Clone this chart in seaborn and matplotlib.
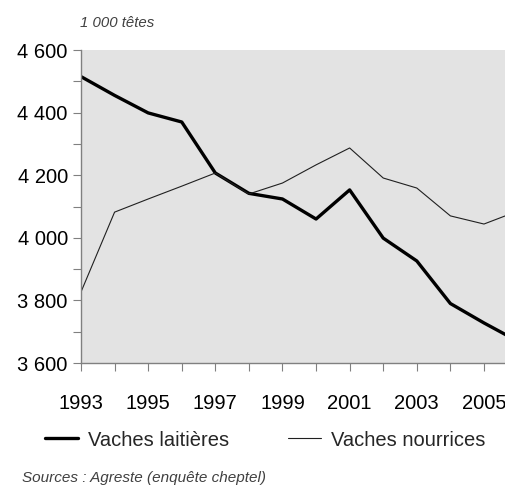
import matplotlib
matplotlib.use("Agg")
import matplotlib.pyplot as plt
import matplotlib.ticker as mticker
import seaborn as sns
import pandas as pd

years = list(range(1993, 2007))
laitieres = [4515, 4455, 4399, 4370, 4207, 4142, 4124, 4060, 4153, 3999, 3926, 3790, 3728, 3670]
nourrices = [3827, 4082, 4124, 4165, 4207, 4140, 4175, 4233, 4287, 4191, 4159, 4070, 4044, 4085]
series_names = ["Vaches laitières", "Vaches nourrices"]
unit_label = "1 000 têtes"
source_label = "Sources : Agreste (enquête cheptel)"
y_major = [3600, 3800, 4000, 4200, 4400, 4600]
x_major = [1993, 1995, 1997, 1999, 2001, 2003, 2005]

sns.set_theme(style="ticks")
plt.rcParams["font.family"] = ["Liberation Sans", "DejaVu Sans"]

df = pd.DataFrame({
    "année": years * 2,
    "valeur": laitieres + nourrices,
    "série": [series_names[0]] * len(years) + [series_names[1]] * len(years),
})

W, H = 506, 486
fig = plt.figure(figsize=(W / 100, H / 100), dpi=100)
ax = fig.add_axes([81 / W, 1 - 363 / H, (W - 81) / W, (363 - 50) / H])
ax.set_facecolor("#e3e3e3")

sns.lineplot(data=df[df["série"] == series_names[0]], x="année", y="valeur",
             color="black", linewidth=2.4, ax=ax, label=series_names[0])
sns.lineplot(data=df[df["série"] == series_names[1]], x="année", y="valeur",
             color="#202020", linewidth=0.8, ax=ax, label=series_names[1])

ax.set_xlim(1993, 1993 + (W - 81) / 33.58)
ax.set_ylim(3600, 4600)
ax.set_xlabel("")
ax.set_ylabel("")
ax.set_yticks(y_major)
ax.yaxis.set_minor_locator(mticker.MultipleLocator(100))
ax.set_xticks(x_major)
ax.xaxis.set_minor_locator(mticker.MultipleLocator(1))
ax.yaxis.set_major_formatter(mticker.FuncFormatter(lambda v, p: f"{int(v):,}".replace(",", " ")))

for s in ["top", "right"]:
    ax.spines[s].set_visible(False)
for s in ["left", "bottom"]:
    ax.spines[s].set_color("#808080")
    ax.spines[s].set_linewidth(1.0)

ax.tick_params(axis="y", which="both", length=6, width=0.8, color="#808080",
               direction="out", pad=3.5, labelsize=14.5, labelcolor="black")
ax.tick_params(axis="x", which="both", length=6, width=0.8, color="#808080",
               direction="out", pad=16, labelsize=14.5, labelcolor="black")

ax.legend(loc="center left", bbox_to_anchor=(45 / W, 1 - 440 / H),
          bbox_transform=fig.transFigure, ncol=2, frameon=False,
          fontsize=14.5, handlelength=1.65, handletextpad=0.5,
          columnspacing=2.9, borderpad=0, borderaxespad=0)

fig.text(80 / W, 1 - 23 / H, unit_label, fontsize=10.8, style="italic",
         color="#404040", ha="left", va="center")
fig.text(22 / W, 1 - 478 / H, source_label, fontsize=11, style="italic",
         color="#404040", ha="left", va="center")

fig.savefig("out.png", dpi=100)
